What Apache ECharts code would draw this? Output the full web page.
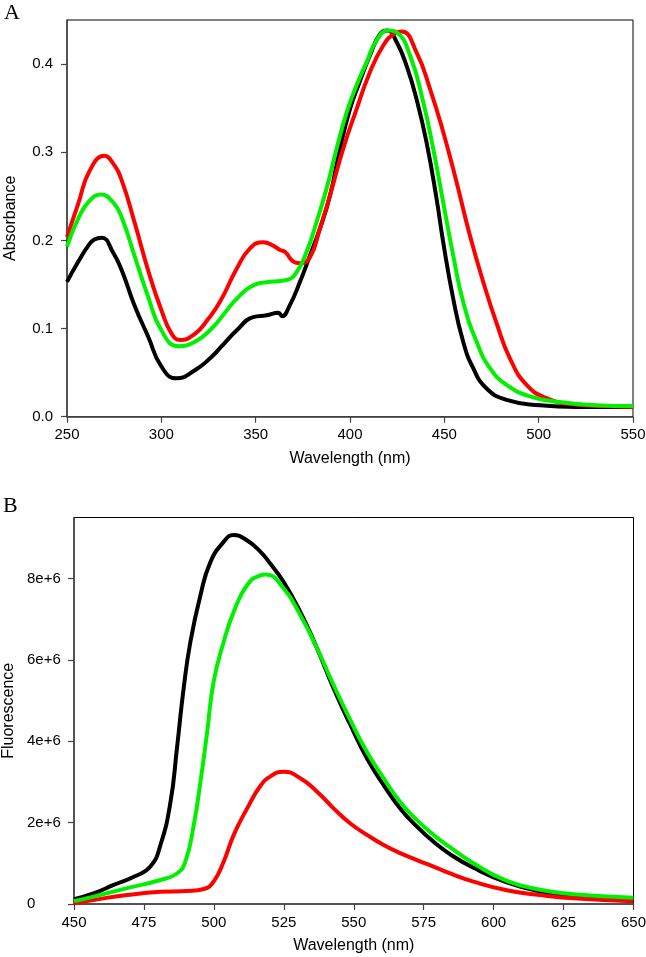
<!DOCTYPE html>
<html>
<head>
<meta charset="utf-8">
<script src="https://cdn.jsdelivr.net/npm/echarts@6/dist/echarts.min.js"></script>
<style>
html,body{margin:0;padding:0;background:#fff;}
#chart{width:646px;height:957px;}
</style>
</head>
<body>
<div id="chart"></div>
<script>
// ---------- Panel A: Absorbance ----------
const absBlackX = [250,256,261.3,264.5,268.4,274.5,279,286,293,300,308,318,326.7,332,340,348.7,355.8,362,364,368,373.5,378.8,384,389.4,394.7,400,405,410.6,415.9,419.8,424.7,430,435.3,440.6,445.9,449.4,454.7,460,465.3,472.4,483,500.6,520,550];
const absBlackY = [0.153,0.176,0.194,0.201,0.203,0.186,0.166,0.125,0.091,0.057,0.0435,0.053,0.068,0.080,0.098,0.113,0.115,0.118,0.114,0.126,0.153,0.183,0.213,0.251,0.304,0.349,0.379,0.410,0.434,0.438,0.425,0.398,0.360,0.311,0.247,0.198,0.134,0.085,0.055,0.032,0.019,0.013,0.011,0.011];

const absRedX = [250,256,262,269.8,274.5,279,286,293,300,305.5,310,317.8,324.9,331,340,347,354,359.3,362.9,365.5,370,373.5,378.8,384,389.4,396.4,403.5,410.6,417.6,423,427.4,435.3,442.4,449.4,456.5,463.5,470.6,477.7,484.8,493.6,504.2,518.3,535,550];
const absRedY = [0.204,0.242,0.279,0.296,0.287,0.268,0.219,0.166,0.121,0.094,0.087,0.094,0.111,0.130,0.168,0.191,0.198,0.194,0.189,0.187,0.176,0.174,0.181,0.213,0.251,0.304,0.349,0.391,0.421,0.434,0.437,0.413,0.372,0.323,0.266,0.206,0.153,0.106,0.066,0.036,0.021,0.014,0.012,0.011];

const absGreenX = [250,256,262,268,274.5,279,286,293,300,309,317.8,326.7,333,340,348.7,357.6,366.4,371.7,377,382.3,387.6,392.9,398.2,403.5,408.8,414.1,420.3,424.7,431.8,438.8,444.1,449.4,454.7,460,467.1,474.2,483,495.4,509.5,530,550];
const absGreenY = [0.193,0.225,0.245,0.252,0.243,0.226,0.181,0.136,0.098,0.080,0.085,0.100,0.116,0.134,0.149,0.153,0.155,0.164,0.187,0.221,0.259,0.304,0.345,0.376,0.402,0.427,0.438,0.436,0.410,0.357,0.304,0.243,0.183,0.130,0.085,0.055,0.036,0.023,0.017,0.013,0.012];

// ---------- Panel B: Fluorescence (values in units of 1e6) ----------
const fluBlackX = [450,457,464.2,471.4,477.3,480.9,484.5,486.8,489.2,491.6,495.2,498.8,503.5,507,511.8,516.6,520,524.9,530.9,536.9,542.8,548.8,554.7,560.7,566.6,572.6,578.5,584.5,592.8,604.7,616.6,628.5,650];
const fluBlackY = [0.12,0.26,0.47,0.67,0.92,1.45,2.51,3.83,5.30,6.44,7.59,8.41,8.90,9.07,8.94,8.66,8.38,7.92,7.18,6.28,5.30,4.40,3.58,2.92,2.35,1.90,1.53,1.22,0.89,0.53,0.31,0.20,0.14];

const fluRedX = [450,457,469,480.9,490.4,496.4,499.9,503.5,507.1,511.9,516.6,520.5,524.9,530.9,536.9,542.8,548.8,554.7,560.7,566.6,572.6,578.5,584.5,592.8,604.7,616.6,628.5,650];
const fluRedY = [0.02,0.10,0.22,0.30,0.32,0.37,0.55,1.04,1.70,2.35,2.90,3.15,3.25,3.09,2.76,2.35,1.98,1.70,1.45,1.25,1.08,0.92,0.75,0.55,0.34,0.22,0.14,0.07];

const fluGreenX = [450,457,469,480.9,486.8,489.8,492.8,495.2,497.6,499.9,503.5,507.1,511.9,516.6,518.5,524.9,530.9,536.9,542.8,548.8,554.7,560.7,566.6,572.6,578.5,584.5,592.8,604.7,616.6,628.5,650];
const fluGreenY = [0.07,0.18,0.39,0.59,0.75,1.04,1.94,3.00,4.23,5.46,6.44,7.18,7.84,8.08,8.10,7.76,7.10,6.28,5.38,4.52,3.74,3.09,2.51,2.06,1.70,1.39,1.00,0.57,0.35,0.24,0.155];

const zip = (xs, ys) => xs.map((x, i) => [x, ys[i]]);

const FONT = 'Liberation Sans';
const axisLineStyle = { color: '#444', width: 1.5 };
const tickStyle = { color: '#444', width: 1.2 };

const chart = echarts.init(document.getElementById('chart'), null, { renderer: 'canvas' });

function lineSeries(data, color, xi) {
  return {
    type: 'line', xAxisIndex: xi, yAxisIndex: xi, data: data,
    smooth: 0.5, showSymbol: false, symbol: 'none',
    lineStyle: { color: color, width: 4 },
    silent: true, animation: false
  };
}

chart.setOption({
  animation: false,
  backgroundColor: '#fff',
  textStyle: { fontFamily: FONT },
  grid: [
    { left: 67, top: 20, right: 13, height: 396.7, show: true, borderColor: '#000', borderWidth: 1, containLabel: false, outerBoundsMode: 'none' },
    { left: 74, top: 517.5, right: 12.5, height: 386.5, show: true, borderColor: '#000', borderWidth: 1, containLabel: false, outerBoundsMode: 'none' }
  ],
  xAxis: [
    {
      gridIndex: 0, type: 'value', min: 250, max: 550, interval: 50,
      name: 'Wavelength (nm)', nameLocation: 'middle', nameGap: 34,
      nameTextStyle: { fontSize: 16, color: '#000', fontFamily: FONT },
      axisLine: { onZero: false, lineStyle: axisLineStyle },
      axisTick: { show: true, inside: false, length: 6, lineStyle: tickStyle },
      axisLabel: { fontSize: 15, color: '#000', margin: 11, fontFamily: FONT },
      splitLine: { show: false }
    },
    {
      gridIndex: 1, type: 'value', min: 450, max: 650, interval: 25,
      name: 'Wavelength (nm)', nameLocation: 'middle', nameGap: 34,
      nameTextStyle: { fontSize: 16, color: '#000', fontFamily: FONT },
      axisLine: { onZero: false, lineStyle: axisLineStyle },
      axisTick: { show: true, inside: false, length: 6, lineStyle: tickStyle },
      axisLabel: { fontSize: 15, color: '#000', margin: 11, fontFamily: FONT },
      splitLine: { show: false }
    }
  ],
  yAxis: [
    {
      gridIndex: 0, type: 'value', min: 0, max: 0.45, interval: 0.1,
      name: 'Absorbance', nameLocation: 'middle', nameGap: 48,
      nameTextStyle: { fontSize: 16, color: '#000', fontFamily: FONT },
      axisLine: { onZero: false, lineStyle: axisLineStyle },
      axisTick: { show: true, inside: false, length: 6, lineStyle: tickStyle },
      axisLabel: { fontSize: 15, color: '#000', margin: 14, showMaxLabel: false, fontFamily: FONT,
        formatter: v => v.toFixed(1) },
      splitLine: { show: false }
    },
    {
      gridIndex: 1, type: 'value', min: 0, max: 9.5, interval: 2,
      name: 'Fluorescence', nameLocation: 'middle', nameGap: 57,
      nameTextStyle: { fontSize: 16, color: '#000', fontFamily: FONT },
      axisLine: { onZero: false, lineStyle: axisLineStyle },
      axisTick: { show: true, inside: false, length: 6, lineStyle: tickStyle },
      axisLabel: { fontSize: 15, color: '#000', margin: 47, align: 'left', showMaxLabel: false, fontFamily: FONT,
        formatter: v => v === 0 ? '0' : v + 'e+6' },
      splitLine: { show: false }
    }
  ],
  graphic: [
    { type: 'text', left: 4, top: 2, style: { text: 'A', font: '22px "Liberation Serif"', fill: '#000' } },
    { type: 'text', left: 3, top: 495, style: { text: 'B', font: '22px "Liberation Serif"', fill: '#000' } }
  ],
  series: [
    lineSeries(zip(absBlackX, absBlackY), '#000000', 0),
    lineSeries(zip(absRedX, absRedY), '#ff0000', 0),
    lineSeries(zip(absGreenX, absGreenY), '#00f000', 0),
    lineSeries(zip(fluBlackX, fluBlackY), '#000000', 1),
    lineSeries(zip(fluRedX, fluRedY), '#ff0000', 1),
    lineSeries(zip(fluGreenX, fluGreenY), '#00f000', 1)
  ]
});
</script>
</body>
</html>
